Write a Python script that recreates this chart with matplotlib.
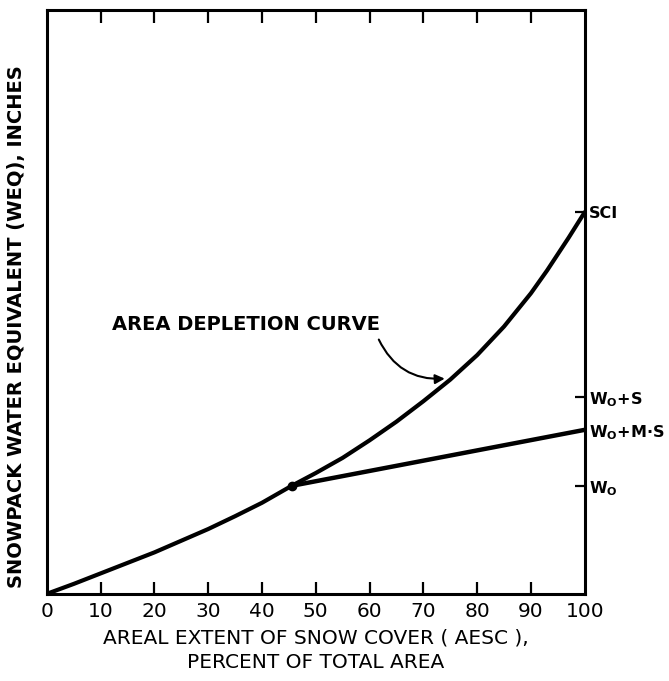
"""
Area depletion curve: snowpack water equivalent vs areal extent of snow cover.
"""

import matplotlib
matplotlib.use("Agg")
import matplotlib.pyplot as plt

# Area depletion curve (x = % of area, y = relative WEQ)
aesc = [0, 5, 10, 15, 20, 25, 30, 35, 40, 45.5, 50, 55, 60, 65, 70,
        75, 80, 85, 90, 93, 97, 100]
weq = [0, 1.7, 3.5, 5.3, 7.1, 9.1, 11.1, 13.3, 15.6, 18.5, 20.7, 23.3,
       26.3, 29.5, 33.0, 36.7, 40.9, 45.8, 51.5, 55.4, 61.0, 65.4]

# Straight line from the departure point to the right edge
line_x = [45.5, 100]
line_y = [18.5, 28.1]

x_ticks = [0, 10, 20, 30, 40, 50, 60, 70, 80, 90, 100]
x_labels = ["0", "10", "20", "30", "40", "50", "60", "70", "80", "90", "100"]

right_ticks = [18.5, 28.1, 33.7, 65.4]
right_labels = [r"W$_\mathbf{O}$", r"W$_\mathbf{O}$+M$\cdot$S", r"W$_\mathbf{O}$+S", "SCI"]

plt.rcParams["mathtext.default"] = "bf"

fig = plt.figure(figsize=(6.69, 6.81), dpi=100)
ax = fig.add_axes([0.070, 0.128, 0.804, 0.857])

ax.plot(aesc, weq, color="black", linewidth=3, solid_capstyle="round",
        solid_joinstyle="round")
ax.plot(line_x, line_y, color="black", linewidth=3.2, solid_capstyle="round")
ax.plot([line_x[0]], [line_y[0]], "o", color="black", markersize=6)

ax.set_xlim(0, 100)
ax.set_ylim(0, 100)

for s in ax.spines.values():
    s.set_linewidth(2.2)

ax.set_xticks(x_ticks)
ax.set_xticklabels(x_labels, fontsize=14.5)
ax.tick_params(axis="x", direction="in", length=9, width=1.6, top=True,
               bottom=True, pad=6)
ax.set_yticks(right_ticks)
ax.set_yticklabels(right_labels, fontsize=11.5, fontweight="bold")
ax.tick_params(axis="y", direction="in", length=7, width=1.6, left=False,
               right=True, labelleft=False, labelright=True, pad=3)
# no tick mark where the straight line meets the axis
ax.yaxis.get_major_ticks()[1].tick2line.set_visible(False)
# hide end ticks at 0 and 100 on the x axis
for t in (ax.xaxis.get_major_ticks()[0], ax.xaxis.get_major_ticks()[-1]):
    t.tick1line.set_visible(False)
    t.tick2line.set_visible(False)

ax.annotate("", xy=(74.5, 36.9), xytext=(61.5, 44.0),
            arrowprops=dict(arrowstyle="-|>", color="black", lw=1.5,
                            connectionstyle="arc3,rad=0.35",
                            mutation_scale=14))
ax.text(12.1, 46.1, "AREA DEPLETION CURVE", fontsize=14, fontweight="bold",
        va="center", ha="left")

ax.set_xlabel("AREAL EXTENT OF SNOW COVER ( AESC ),\nPERCENT OF TOTAL AREA",
              fontsize=14.5, linespacing=1.4, labelpad=5)
fig.text(0.025, 0.52, "SNOWPACK WATER EQUIVALENT (WEQ), INCHES",
         rotation=90, fontsize=14, fontweight="bold", va="center", ha="center")

fig.savefig("out.png", dpi=100)
plt.close()
